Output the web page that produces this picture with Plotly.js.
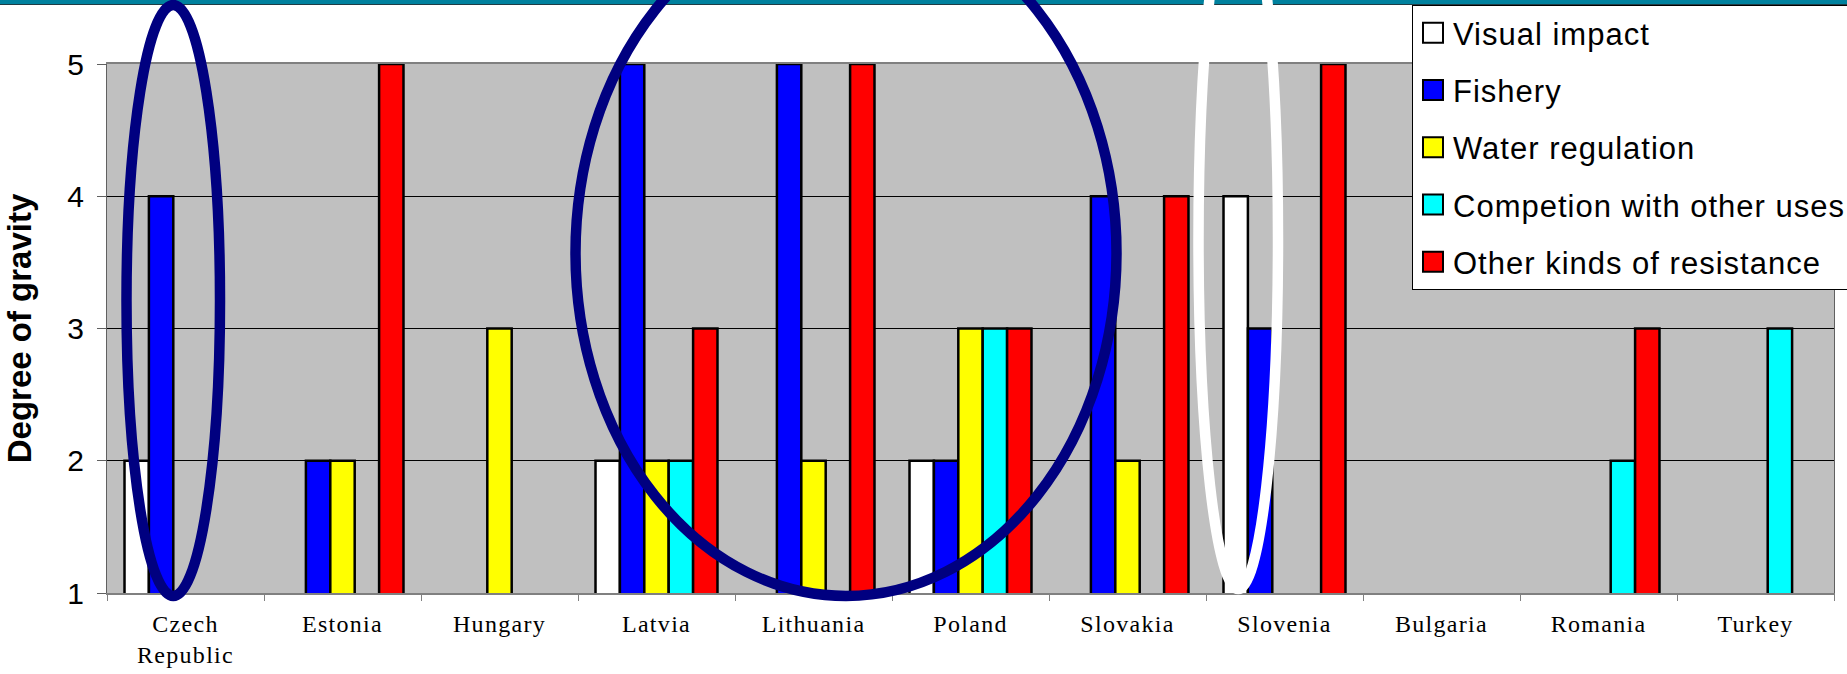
<!DOCTYPE html>
<html>
<head>
<meta charset="utf-8">
<script src="https://cdn.plot.ly/plotly-3.0.1.min.js"></script>
<style>
html,body{margin:0;padding:0;background:#ffffff;}
#chart{width:1847px;height:674px;}
#chart .xtick text{letter-spacing:1.3px;}
#chart .legendtext{letter-spacing:1px;}
</style>
</head>
<body>
<div id="chart"></div>
<script>
// ---- data ----
const countries = ["Czech<br>Republic","Estonia","Hungary","Latvia","Lithuania","Poland","Slovakia","Slovenia","Bulgaria","Romania","Turkey"];
const visualImpact    = [2, null, null, 2, null, 2, null, 4, null, null, null];
const fishery         = [4, 2, null, 5, 5, 2, 4, 3, null, null, null];
const waterRegulation = [null, 2, 3, 2, 2, 3, 2, null, null, null, null];
const competition     = [null, null, null, 2, null, 3, null, null, null, 2, 3];
const otherResistance = [null, 5, null, 3, 5, 3, 4, 5, null, 3, null];
const seriesNames = ["Visual impact","Fishery","Water regulation","Competion with other uses","Other kinds of resistance"];
const yTickVals = [1, 2, 3, 4, 5];
const yTitle = "Degree of gravity";

// ---- styling ----
const seriesValues = [visualImpact, fishery, waterRegulation, competition, otherResistance];
const seriesColors = ["#FFFFFF", "#0000FF", "#FFFF00", "#00FFFF", "#FF0000"];

const W = 1847, H = 674, L = 107, R = 13, T = 64, B = 81;
const pw = W - L - R, ph = H - T - B;
const px = x => (x - L) / pw;
const py = y => (H - B - y) / ph;

const traces = seriesValues.map((vals, i) => ({
  type: 'bar',
  name: seriesNames[i],
  x: countries,
  y: vals,
  legendgroup: 'g' + i,
  marker: { color: seriesColors[i], line: { color: '#000000', width: 2.5 } },
  hoverinfo: 'skip'
}));

const navy = '#000080';
const strokeW = 10.5;
const shapes = [
  { type: 'rect', xref: 'paper', yref: 'paper', x0: px(0), x1: px(W), y0: py(4), y1: py(0),
    fillcolor: '#00819E', line: { width: 0 }, layer: 'above' },
  { type: 'line', xref: 'paper', yref: 'paper', x0: px(0), x1: px(W), y0: py(4.5), y1: py(4.5),
    line: { color: '#203c44', width: 1 }, layer: 'above' },
  { type: 'circle', xref: 'paper', yref: 'paper', x0: px(126.5), x1: px(220), y0: py(596), y1: py(5),
    line: { color: navy, width: strokeW }, fillcolor: 'rgba(0,0,0,0)', layer: 'above' },
  { type: 'circle', xref: 'paper', yref: 'paper', x0: px(575.5), x1: px(1116.5), y0: py(596), y1: py(-90),
    line: { color: navy, width: strokeW }, fillcolor: 'rgba(0,0,0,0)', layer: 'above' },
  { type: 'circle', xref: 'paper', yref: 'paper', x0: px(1198.5), x1: px(1278), y0: py(589), y1: py(-110),
    line: { color: '#FFFFFF', width: strokeW }, fillcolor: 'rgba(0,0,0,0)', layer: 'above' }
];

const layout = {
  width: W, height: H,
  margin: { l: L, r: R, t: T, b: B, pad: 0, autoexpand: false },
  paper_bgcolor: '#FFFFFF',
  plot_bgcolor: '#C0C0C0',
  barmode: 'group',
  bargap: 0.223,
  bargroupgap: 0,
  showlegend: true,
  legend: {
    x: px(1412), y: py(5), xanchor: 'left', yanchor: 'top',
    bgcolor: '#FFFFFF', bordercolor: '#000000', borderwidth: 1,
    font: { family: 'Liberation Sans, Arial, sans-serif', size: 31, color: '#000000' },
    tracegroupgap: 14
  },
  xaxis: {
    type: 'category',
    tickson: 'boundaries',
    ticks: 'outside', ticklen: 6, tickcolor: '#808080', tickwidth: 1,
    showline: true, linecolor: '#808080', linewidth: 2, mirror: true,
    showgrid: false, zeroline: false,
    tickfont: { family: 'Liberation Serif, Times New Roman, serif', size: 24, color: '#000000' },
    ticklabelstandoff: 8,
    layer: 'below traces'
  },
  yaxis: {
    range: [1, 5],
    tickvals: yTickVals,
    ticks: 'outside', ticklen: 9, tickcolor: '#606060', tickwidth: 1,
    showline: true, linecolor: '#606060', linewidth: 1, mirror: true,
    showgrid: true, gridcolor: '#000000', gridwidth: 1, zeroline: false,
    tickfont: { family: 'Liberation Sans, Arial, sans-serif', size: 30, color: '#000000' },
    ticklabelstandoff: 7,
    title: { text: yTitle, standoff: 25,
      font: { family: 'Liberation Sans, Arial, sans-serif', size: 33, color: '#000000', weight: 'bold' } },
    layer: 'below traces'
  },
  shapes: shapes
};

function touchUpLegend() {
  document.querySelectorAll('#chart .legend .legendpoints path').forEach(p => {
    p.setAttribute('d', 'M10,10H-10V-10H10Z');
    p.style.strokeWidth = '2px';
  });
  // legend box runs off the right edge of the figure, as in the original slide
  document.querySelectorAll('#chart .legend rect.bg').forEach(r => {
    r.setAttribute('width', String(W - 1412 + 20));
  });
  document.querySelectorAll('#chart .legend .scrollbox').forEach(s => {
    s.removeAttribute('clip-path');
  });
}

Plotly.newPlot('chart', traces, layout, { displayModeBar: false, staticPlot: true }).then(() => {
  touchUpLegend();
  setTimeout(touchUpLegend, 50);
});
</script>
</body>
</html>
